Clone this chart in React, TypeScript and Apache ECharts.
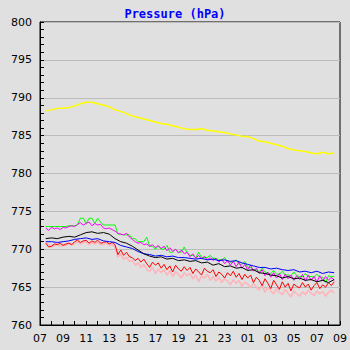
import React, { useEffect, useRef } from "react";
import * as echarts from "echarts";

// Hours after 07:00 of the first sample, and the spacing of the samples (hours)
const startHour = 0.5;
const stepHours = 0.5; // yellow, black, blue
const fineStepHours = 0.25; // green, magenta, red, pink

const xTickLabels = ["07", "09", "11", "13", "15", "17", "19", "21", "23", "01", "03", "05", "07", "09"];

const yellow = [
  788.3, 788.4, 788.6, 788.6, 788.7, 788.9, 789.2, 789.4, 789.4, 789.2,
  789.0, 788.8, 788.4, 788.2, 787.9, 787.6, 787.4, 787.2, 787.0, 786.8,
  786.6, 786.5, 786.3, 786.1, 785.9, 785.8, 785.8, 785.9, 785.7, 785.6,
  785.5, 785.4, 785.2, 785.1, 784.9, 784.9, 784.6, 784.3, 784.2, 784.0,
  783.8, 783.6, 783.3, 783.1, 783.0, 782.9, 782.7, 782.6, 782.8, 782.6, 782.7,
];
const black = [
  771.4, 771.5, 771.4, 771.6, 771.7, 771.6, 771.9, 772.2, 772.3, 772.1,
  772.2, 772.0, 771.4, 771.0, 770.8, 770.4, 769.9, 769.4, 769.1, 768.9,
  769.0, 768.7, 768.8, 768.5, 768.6, 768.4, 768.5, 768.2, 768.3, 767.9,
  768.1, 767.7, 767.8, 767.5, 767.6, 767.2, 767.3, 766.9, 766.8, 766.6,
  766.5, 766.2, 766.4, 766.1, 766.2, 765.9, 766.0, 765.7, 765.9, 765.6, 766.0,
];
const blue = [
  771.0, 771.0, 770.9, 771.0, 771.1, 771.3, 771.4, 771.5, 771.3, 771.4,
  771.1, 771.0, 770.9, 770.5, 770.3, 770.1, 769.7, 769.4, 769.3, 769.1,
  769.2, 769.0, 769.1, 768.9, 768.9, 768.8, 768.7, 768.8, 768.6, 768.7,
  768.5, 768.6, 768.4, 768.5, 768.2, 768.0, 767.8, 767.6, 767.6, 767.4,
  767.5, 767.3, 767.2, 767.3, 767.0, 767.1, 766.9, 767.1, 766.8, 767.0, 766.9,
];
const green = [
  773.0, 773.0, 773.0, 773.0, 773.0, 773.0, 773.0, 773.0, 773.1, 773.1,
  773.1, 773.2, 774.1, 774.1, 773.4, 774.1, 774.1, 773.4, 774.1, 773.6,
  773.2, 773.2, 773.2, 773.2, 773.2, 772.0, 772.0, 771.9, 771.9, 771.9,
  771.4, 771.4, 771.0, 771.0, 771.0, 771.6, 770.4, 770.4, 770.0, 770.4,
  770.0, 770.0, 770.5, 769.6, 769.6, 770.0, 769.6, 769.6, 770.3, 769.5,
  769.2, 769.2, 768.9, 769.6, 768.9, 768.9, 768.9, 769.2, 768.8, 768.8,
  768.6, 768.6, 768.9, 768.3, 768.3, 768.3, 768.6, 768.0, 768.0, 768.4,
  767.6, 767.6, 767.3, 767.3, 767.0, 767.5, 767.0, 766.8, 766.8, 767.2,
  766.7, 766.7, 767.1, 766.6, 766.6, 766.5, 767.0, 766.5, 766.4, 766.4,
  766.8, 766.4, 766.4, 766.3, 766.7, 766.3, 766.3, 765.6, 766.5, 766.4, 766.4,
];
const magenta = [
  772.8, 772.5, 772.9, 772.7, 772.8, 772.6, 772.9, 772.8, 773.0, 773.1,
  773.0, 773.3, 773.5, 773.2, 773.4, 773.6, 773.1, 773.4, 773.2, 773.3,
  772.8, 772.7, 772.8, 772.6, 772.4, 772.1, 772.0, 771.9, 772.1, 771.6,
  771.3, 771.0, 770.8, 770.9, 770.6, 770.7, 770.4, 770.6, 770.2, 770.5,
  770.1, 770.4, 769.8, 770.2, 769.7, 770.0, 769.5, 769.9, 769.4, 769.6,
  769.0, 769.4, 768.8, 769.2, 768.7, 769.1, 768.6, 768.9, 768.5, 768.8,
  768.3, 768.7, 768.1, 768.5, 767.9, 768.4, 767.7, 768.3, 767.5, 768.0,
  767.3, 767.9, 767.1, 767.5, 766.8, 767.3, 766.5, 767.0, 766.3, 766.9,
  766.2, 766.8, 766.0, 766.7, 766.1, 766.6, 765.9, 766.5, 766.0, 766.7,
  765.8, 766.6, 765.9, 766.4, 765.7, 766.5, 765.8, 766.4, 765.9, 766.3, 765.9,
];
const red = [
  770.8, 770.3, 770.4, 770.7, 770.6, 770.8, 770.5, 770.7, 770.8, 770.6,
  771.0, 771.2, 770.9, 771.1, 771.2, 770.8, 771.1, 770.9, 771.2, 770.8,
  770.9, 771.0, 770.7, 770.9, 770.6, 769.3, 769.9, 769.2, 769.6, 769.0,
  768.9, 768.5, 768.8, 768.3, 768.7, 768.1, 767.6, 768.3, 767.9, 768.2,
  767.5, 768.0, 767.3, 767.8, 767.0, 767.9, 767.4, 767.1, 767.7, 767.2,
  767.6, 766.8, 767.4, 767.0, 766.6, 767.5, 767.1, 766.9, 767.3, 766.4,
  767.0, 766.7, 766.2, 766.9, 766.5, 767.1, 766.3, 766.8, 766.0, 766.7,
  766.2, 766.6, 765.6, 766.3, 765.9, 765.2, 766.1, 765.5, 764.8, 765.9,
  765.3, 764.7, 765.7, 765.0, 765.5, 764.5, 765.4, 765.1, 764.9, 765.6,
  765.0, 765.4, 764.6, 765.2, 765.6, 764.8, 765.3, 765.0, 765.6, 765.2, 765.7,
];
const pink = [
  770.9, 770.6, 770.3, 770.5, 770.7, 770.4, 770.6, 770.5, 770.8, 770.6,
  770.8, 771.0, 770.7, 770.9, 771.0, 770.6, 770.9, 770.7, 770.9, 770.6,
  770.7, 770.8, 770.5, 770.6, 770.3, 769.0, 769.4, 768.7, 768.9, 768.4,
  768.5, 767.9, 768.2, 767.6, 768.0, 767.3, 767.1, 767.6, 766.8, 767.4,
  766.9, 767.3, 766.6, 767.2, 766.4, 767.0, 766.7, 766.2, 766.9, 766.5,
  766.8, 766.1, 766.6, 765.7, 766.5, 766.2, 766.7, 765.9, 766.4, 765.8,
  766.3, 765.6, 766.1, 765.8, 765.3, 766.0, 765.5, 765.9, 765.1, 765.7,
  765.4, 764.9, 765.5, 765.0, 764.6, 765.3, 764.3, 765.0, 764.5, 764.1,
  764.8, 764.3, 764.0, 764.7, 764.2, 763.7, 764.5, 764.1, 763.8, 764.4,
  764.0, 764.6, 764.2, 763.9, 764.5, 764.1, 764.4, 763.8, 764.3, 764.6, 764.2,
];

const toPairs = (vals: number[], step: number) => vals.map((v, i) => [startHour + i * step, v]);

export default function App() {
  const ref = useRef<HTMLDivElement>(null);
  useEffect(() => {
    if (!ref.current) return;
    const chart = echarts.init(ref.current, null, { renderer: "svg" });
    const mk = (name: string, color: string, vals: number[], step: number, width = 1) => ({
      name,
      type: "line",
      data: toPairs(vals, step),
      showSymbol: false,
      symbol: "none",
      lineStyle: { color, width },
      itemStyle: { color },
    });
    chart.setOption({
      animation: false,
      backgroundColor: "#e0e0e0",
      title: {
        text: "Pressure (hPa)",
        left: "center",
        top: 3,
        textStyle: { color: "#0000ff", fontSize: 12, fontWeight: "bold", fontFamily: "DejaVu Sans Mono" },
      },
      grid: {
        left: 40,
        right: 10,
        top: 22,
        bottom: 25,
        show: true,
        borderColor: "#000",
        borderWidth: 1,
        backgroundColor: "transparent",
      },
      xAxis: {
        type: "value",
        min: 0,
        max: 26,
        interval: 2,
        axisLine: { show: true, lineStyle: { color: "#000", width: 1 } },
        axisTick: { show: true, inside: true, length: 4, lineStyle: { color: "#000" } },
        minorTick: { show: true, splitNumber: 2, length: 4, lineStyle: { color: "#000" } },
        splitLine: { show: false },
        axisLabel: {
          color: "#000",
          fontSize: 11,
          fontFamily: "DejaVu Sans",
          margin: 8,
          formatter: (v: number) => xTickLabels[Math.round(v / 2)] ?? "",
        },
      },
      yAxis: {
        type: "value",
        min: 760,
        max: 800,
        interval: 5,
        axisLine: { show: true, lineStyle: { color: "#000", width: 1 } },
        axisTick: { show: true, inside: true, length: 4, lineStyle: { color: "#000" } },
        minorTick: { show: true, splitNumber: 5, length: 4, lineStyle: { color: "#000" } },
        splitLine: { show: true, lineStyle: { color: "#bcbcbc", width: 1 } },
        axisLabel: { color: "#000", fontSize: 11, fontFamily: "DejaVu Sans", margin: 8 },
      },
      series: [
        mk("pink", "#ffb4bc", pink, fineStepHours, 1.6),
        mk("red", "#ff0000", red, fineStepHours),
        mk("yellow", "#ffff00", yellow, stepHours, 1.5),
        mk("green", "#00ff00", green, fineStepHours),
        mk("magenta", "#ff00ff", magenta, fineStepHours),
        mk("blue", "#0000ff", blue, stepHours),
        mk("black", "#000000", black, stepHours),
      ],
    });
    return () => chart.dispose();
  }, []);
  return (
    <div
      ref={ref}
      style={{ position: "fixed", left: 0, top: 0, width: 350, height: 350 }}
    />
  );
}
